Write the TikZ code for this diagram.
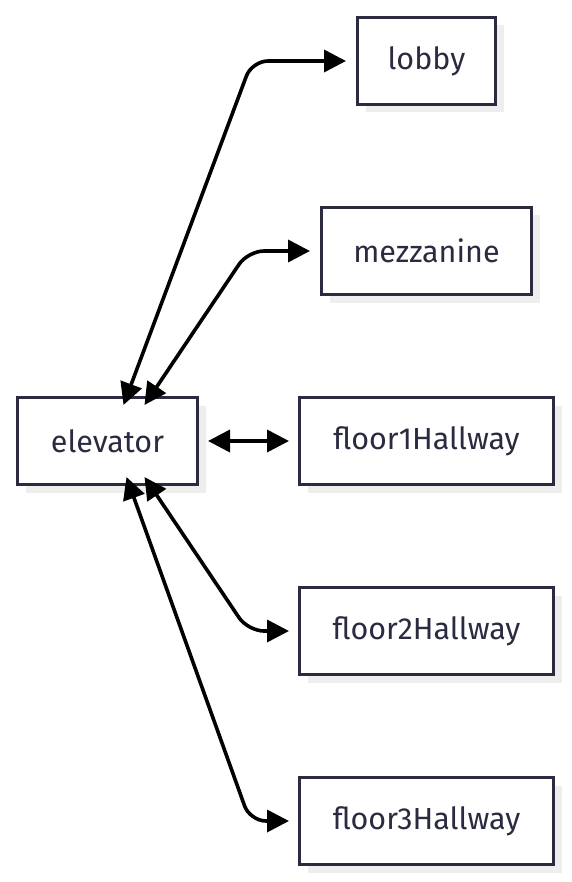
\documentclass[tikz,border=0pt]{standalone}
\usepackage{fontspec}
\setmainfont{Fira Sans}
\usetikzlibrary{arrows.meta,shadows}
\definecolor{boxline}{RGB}{42,42,64}
\definecolor{boxshade}{RGB}{238,238,238}
\begin{document}
\begin{tikzpicture}[x=1pt, y=-1pt,
    room/.style={draw=boxline, line width=3pt, fill=white, text=boxline,
        minimum height=87pt, inner sep=0pt, font=\fontsize{30.5}{36}\selectfont,
        general shadow={fill=boxshade, shadow xshift=8pt, shadow yshift=-8pt}},
    link/.style={line width=3.6pt, rounded corners=16pt,
        {Triangle[length=22pt, width=22pt]}-{Triangle[length=22pt, width=22pt]}}]
    \useasboundingbox (0,0) rectangle (571,882);

    % rooms
    \node[room, minimum width=138pt] (lobby) at (426.5, 61) {lobby};
    \node[room, minimum width=210pt] (mezzanine) at (426.5, 251) {mezzanine};
    \node[room, minimum width=180pt] (elevator) at (107.5, 441) {elevator};
    \node[room, minimum width=254pt] (floor1Hallway) at (426.5, 441) {floor1Hallway};
    \node[room, minimum width=254pt] (floor2Hallway) at (426.5, 631) {floor2Hallway};
    \node[room, minimum width=254pt] (floor3Hallway) at (426.5, 821) {floor3Hallway};

    % elevator shafts
    \draw[link] ([xshift=16, yshift=-9]elevator.north) -- ([xshift=-104]lobby.west) -- ([xshift=-10]lobby.west);
    \draw[link] ([xshift=37, yshift=-9]elevator.north) -- ([xshift=-72]mezzanine.west) -- ([xshift=-10]mezzanine.west);
    \draw[link] ([xshift=9]elevator.east) -- ([xshift=-9]floor1Hallway.west);
    \draw[link] ([xshift=37, yshift=9]elevator.south) -- ([xshift=-50]floor2Hallway.west) -- ([xshift=-9]floor2Hallway.west);
    \draw[link] ([xshift=19, yshift=9]elevator.south) -- ([xshift=-48]floor3Hallway.west) -- ([xshift=-9]floor3Hallway.west);
\end{tikzpicture}
\end{document}
